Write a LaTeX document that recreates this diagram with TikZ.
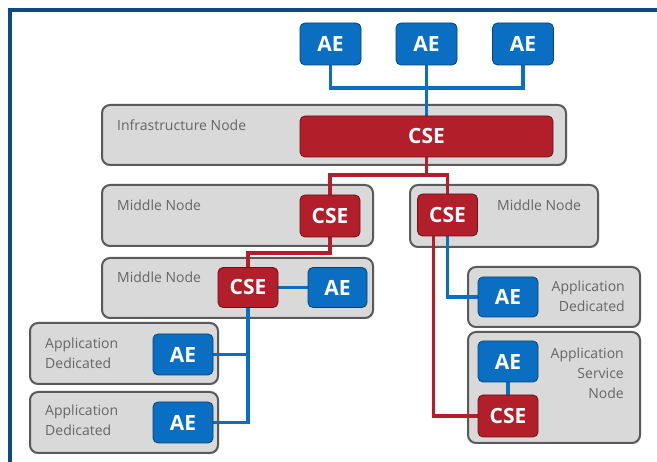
\documentclass[tikz,border=0pt]{standalone}
\usepackage{fontspec}
\setmainfont{Open Sans}
\usetikzlibrary{shadows}
\definecolor{aeblue}{HTML}{0A6FC2}
\definecolor{csered}{HTML}{B21F2A}
\definecolor{boxgray}{HTML}{D9D9D9}
\definecolor{boxline}{HTML}{5A5A5A}
\definecolor{labelgray}{HTML}{666666}
\definecolor{framblue}{HTML}{0B4A82}
\pgfdeclarelayer{hosts}
\pgfdeclarelayer{links}
\pgfsetlayers{hosts,links,main}
\tikzset{
  x=1pt, y=-1pt,
  hostbox/.style={rectangle, rounded corners=8pt, fill=boxgray, draw=boxline,
    line width=2pt, inner sep=0pt, outer sep=0pt,
    drop shadow={shadow xshift=1pt, shadow yshift=-1pt, opacity=0.25}},
  entity/.style={rectangle, rounded corners=5pt, line width=0.8pt, inner sep=0pt,
    outer sep=0pt, text=white, font=\fontsize{21}{24}\selectfont\bfseries,
    minimum width=60pt, minimum height=41pt},
  aebox/.style={entity, fill=aeblue, draw=aeblue!60!black},
  csebox/.style={entity, fill=csered, draw=csered!60!black},
  hostlabel/.style={text=labelgray, font=\fontsize{14}{20}\selectfont, inner sep=0pt},
  blueline/.style={draw=aeblue, line width=3.4pt},
  redline/.style={draw=csered, line width=3.4pt},
}
\begin{document}
\begin{tikzpicture}
\useasboundingbox (0,0) rectangle (657,462);
% frame
\fill[framblue] (8,8) rectangle (657,12);
\fill[framblue] (8,8) rectangle (12,462);

% host boxes
\begin{pgfonlayer}{hosts}
\node[hostbox, minimum width=464pt, minimum height=60pt] (infra) at (334,135) {};
\node[hostbox, minimum width=271pt, minimum height=61pt] (midA) at (237.5,215.5) {};
\node[hostbox, minimum width=188pt, minimum height=62pt] (midB) at (504,216) {};
\node[hostbox, minimum width=271pt, minimum height=60pt] (midC) at (237.5,288) {};
\node[hostbox, minimum width=188pt, minimum height=61pt] (appL1) at (124,353.5) {};
\node[hostbox, minimum width=188pt, minimum height=61pt] (appL2) at (124,422.5) {};
\node[hostbox, minimum width=172pt, minimum height=60pt] (appR) at (554,297) {};
\node[hostbox, minimum width=172pt, minimum height=111pt] (svc) at (554,387.5) {};
\end{pgfonlayer}

% host labels
\node[hostlabel, anchor=west] (linfra) at (117,125) {Infrastructure Node};
\node[hostlabel, anchor=west] (lmidA) at (117,205) {Middle Node};
\node[hostlabel, anchor=west] (lmidB) at (497,205) {Middle Node};
\node[hostlabel, anchor=west] (lmidC) at (117,277) {Middle Node};
\node[hostlabel, anchor=west, align=left] (lappL1) at (45,353) {Application\\Dedicated};
\node[hostlabel, anchor=west, align=left] (lappL2) at (45,420.5) {Application\\Dedicated};
\node[hostlabel, anchor=east, align=right] (lappR) at (625,296) {Application\\Dedicated};
\node[hostlabel, anchor=east, align=right] (lsvc) at (624,373) {Application\\Service\\Node};

% application and common service entities
\node[aebox, minimum width=61pt, minimum height=42pt] (ae1) at (330.5,44) {AE};
\node[aebox, minimum width=61pt, minimum height=42pt] (ae2) at (426.5,44) {AE};
\node[aebox, minimum width=61pt, minimum height=42pt] (ae3) at (523,44) {AE};
\node[csebox, minimum width=253pt] (icse) at (426.5,136.5) {CSE};
\node[csebox, minimum height=42pt] (cseA) at (330,216) {CSE};
\node[csebox, minimum height=42pt] (cseB) at (447.5,215) {CSE};
\node[csebox, minimum height=40pt] (cseC) at (248,287.5) {CSE};
\node[aebox, minimum width=59pt, minimum height=40pt] (aeC) at (337.5,287.5) {AE};
\node[aebox] (aeL1) at (183,354.5) {AE};
\node[aebox] (aeL2) at (183,422.5) {AE};
\node[aebox, minimum height=40pt] (aeR) at (508,297) {AE};
\node[aebox] (aeS) at (508,361.5) {AE};
\node[csebox, minimum height=42pt] (cseS) at (508,416) {CSE};

% connectors, kept behind the entity boxes
\begin{pgfonlayer}{links}
% top-level AEs onto the infrastructure CSE
\draw[blueline] (ae1.south) -- ++(0,23) -| (ae3.south);
\draw[blueline] (ae2.south) -- (icse.north);
% CSE tree
\draw[redline] (icse.south) -- ++(0,18);
\draw[redline] (cseA.north) -- ++(0,-20) -| (cseB.north);
\draw[redline] (cseA.south) -- ++(0,16) -| (cseC.north);
\draw[redline] ([xshift=-14pt]cseB.south) |- (cseS.west);
% AEs registered to their CSEs
\draw[blueline] (cseC.east) -- (aeC.west);
\draw[blueline] (cseC.south) |- (aeL2.east);
\draw[blueline] (aeL1.east) -- (aeL1.east -| cseC.south);
\draw[blueline] (cseB.south) |- (aeR.west);
\draw[blueline] (aeS.south) -- (cseS.north);
\end{pgfonlayer}
\end{tikzpicture}
\end{document}
